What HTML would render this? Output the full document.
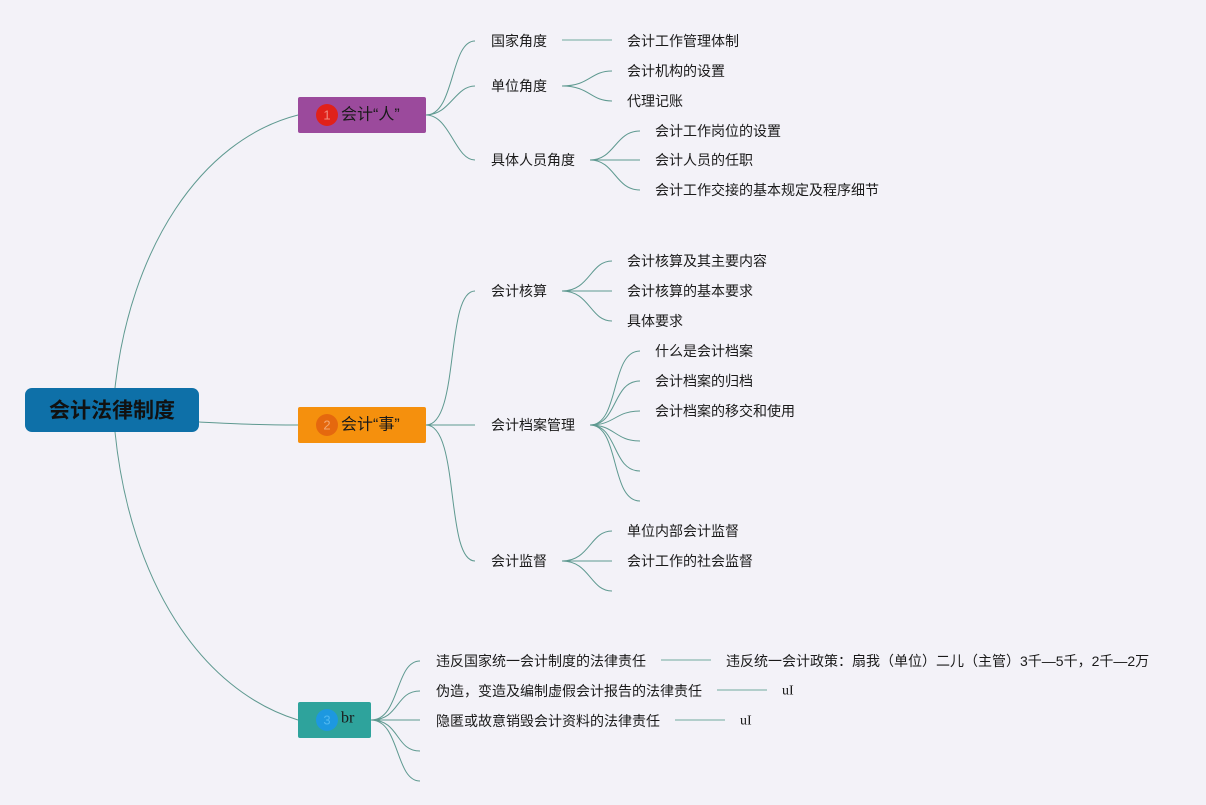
<!DOCTYPE html>
<html><head><meta charset="utf-8"><style>
html,body{margin:0;padding:0;background:#f3f2f8;}
svg{display:block;font-family:"Liberation Sans","Noto Sans CJK SC",sans-serif;}
text{font-size:14px;fill:#1a1a1a;dominant-baseline:central;}
</style></head><body>
<svg width="1206" height="805" viewBox="0 0 1206 805">
<g fill="none" stroke="#5e9990" stroke-width="1">
<path d="M115,388 C130,250 200,140 298,115"/>
<path d="M199,422 C240,424 260,425 298,425"/>
<path d="M115,432 C130,580 200,690 298,720"/>
<!-- node1 children -->
<path d="M426,115 C455,115 450,41 475,41"/>
<path d="M426,115 C450,115 455,86 475,86"/>
<path d="M426,115 C450,115 455,160 475,160"/>
<path d="M562,86 C590,86 590,71 612,71"/>
<path d="M562,86 C590,86 590,101 612,101"/>
<path d="M590,160 C615,160 615,131 640,131"/>
<path d="M590,160 L640,160"/>
<path d="M590,160 C615,160 615,190 640,190"/>
<!-- node2 children -->
<path d="M426,425 C460,425 445,291 475,291"/>
<path d="M426,425 L475,425"/>
<path d="M426,425 C460,425 445,561 475,561"/>
<path d="M562,291 C590,291 590,261 612,261"/>
<path d="M562,291 L612,291"/>
<path d="M562,291 C590,291 590,321 612,321"/>
<path d="M590,425 C620,425 610,351 640,351"/>
<path d="M590,425 C618,425 612,381 640,381"/>
<path d="M590,425 C615,425 615,411 640,411"/>
<path d="M590,425 C615,425 615,441 640,441"/>
<path d="M590,425 C618,425 612,471 640,471"/>
<path d="M590,425 C620,425 610,501 640,501"/>
<path d="M562,561 C590,561 590,531 612,531"/>
<path d="M562,561 L612,561"/>
<path d="M562,561 C590,561 590,591 612,591"/>
<!-- node3 children -->
<path d="M371,720 C400,720 395,661 420,661"/>
<path d="M371,720 C400,720 395,691 420,691"/>
<path d="M371,720 L420,720"/>
<path d="M371,720 C400,720 395,751 420,751"/>
<path d="M371,720 C400,720 395,781 420,781"/>
</g>
<g stroke="#9dc2bc" stroke-width="1.5">
<line x1="562" y1="40" x2="612" y2="40"/>
<line x1="661" y1="660" x2="711" y2="660"/>
<line x1="717" y1="690" x2="767" y2="690"/>
<line x1="675" y1="720" x2="725" y2="720"/>
</g>
<rect x="25" y="388" width="174" height="44" rx="7" fill="#0e70a8"/>
<text x="112" y="411" text-anchor="middle" style="font-size:21px;font-weight:bold;fill:#111">会计法律制度</text>
<rect x="298" y="97" width="128" height="36" rx="2" fill="#9b4a9c"/>
<circle cx="327" cy="115" r="11" fill="#e0211a"/>
<text x="327" y="115" text-anchor="middle" style="font-size:13px;fill:#f08a80">1</text>
<text x="341" y="115" style="font-size:16px">会计“人”</text>
<rect x="298" y="407" width="128" height="36" rx="2" fill="#f5900d"/>
<circle cx="327" cy="425" r="11" fill="#e5680e"/>
<text x="327" y="425" text-anchor="middle" style="font-size:13px;fill:#f4a870">2</text>
<text x="341" y="425" style="font-size:16px">会计“事”</text>
<rect x="298" y="702" width="73" height="36" rx="2" fill="#2ea39c"/>
<circle cx="327" cy="720" r="11" fill="#1d98e0"/>
<text x="327" y="720" text-anchor="middle" style="font-size:13px;fill:#50b8f0">3</text>
<text x="341" y="718" style="font-size:16px;font-family:'Liberation Serif',serif">br</text>
<text x="491" y="41">国家角度</text>
<text x="491" y="86">单位角度</text>
<text x="491" y="160">具体人员角度</text>
<text x="627" y="41">会计工作管理体制</text>
<text x="627" y="71">会计机构的设置</text>
<text x="627" y="101">代理记账</text>
<text x="655" y="131">会计工作岗位的设置</text>
<text x="655" y="160">会计人员的任职</text>
<text x="655" y="190">会计工作交接的基本规定及程序细节</text>
<text x="491" y="291">会计核算</text>
<text x="491" y="425">会计档案管理</text>
<text x="491" y="561">会计监督</text>
<text x="627" y="261">会计核算及其主要内容</text>
<text x="627" y="291">会计核算的基本要求</text>
<text x="627" y="321">具体要求</text>
<text x="655" y="351">什么是会计档案</text>
<text x="655" y="381">会计档案的归档</text>
<text x="655" y="411">会计档案的移交和使用</text>
<text x="627" y="531">单位内部会计监督</text>
<text x="627" y="561">会计工作的社会监督</text>
<text x="436" y="661">违反国家统一会计制度的法律责任</text>
<text x="436" y="691">伪造，变造及编制虚假会计报告的法律责任</text>
<text x="436" y="721">隐匿或故意销毁会计资料的法律责任</text>
<text x="726" y="661">违反统一会计政策：扇我（单位）二儿（主管）3千—5千，2千—2万</text>
<text x="782" y="691" style="font-family:'Liberation Serif',serif">uI</text>
<text x="740" y="721" style="font-family:'Liberation Serif',serif">uI</text>
</svg>
</body></html>
